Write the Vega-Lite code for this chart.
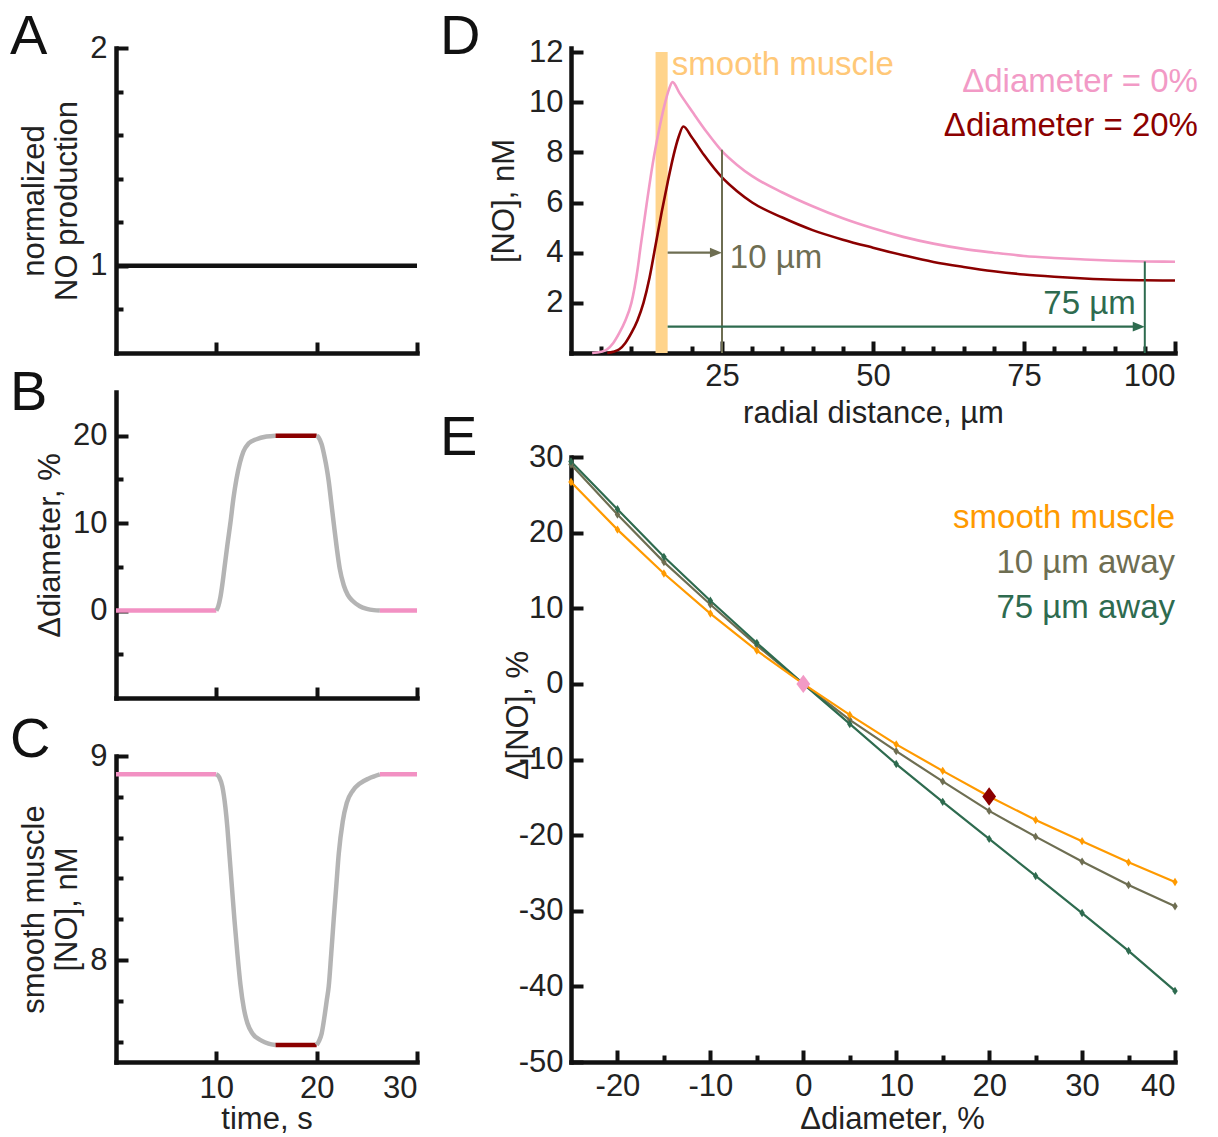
{
  "$schema": "https://vega.github.io/schema/vega-lite/v6.json",
  "autosize": {"type": "pad"},
  "padding": {"left": 10, "top": 9, "right": 5, "bottom": 2},
  "background": "white",
  "config": {
    "view": {"stroke": null},
    "font": "Liberation Sans",
    "axis": {
      "grid": false, "domainColor": "#111", "domainWidth": 4.5, "domainCap": "square",
      "tickColor": "#111", "tickWidth": 4,
      "labelFont": "Liberation Sans", "labelFontSize": 31, "labelColor": "#222",
      "titleFont": "Liberation Sans", "titleFontSize": 31, "titleFontWeight": "normal", "titleColor": "#222"
    },
    "title": {"font": "Liberation Sans", "fontSize": 56, "fontWeight": "normal", "color": "#111", "anchor": "start", "frame": "group", "offset": 0, "baseline": "alphabetic"}
  },
  "datasets": {
    "A": [{"t": 0, "v": 1}, {"t": 30, "v": 1}],
    "B": [
      {"t": 0, "v": 0, "seg": "p1"}, {"t": 10, "v": 0, "seg": "p1"},
      {"t": 10, "v": 0, "seg": "g1"}, {"t": 10.2, "v": 0.5, "seg": "g1"}, {"t": 10.4, "v": 1.5, "seg": "g1"}, {"t": 10.6, "v": 3.0, "seg": "g1"}, {"t": 10.8, "v": 4.8, "seg": "g1"}, {"t": 11.1, "v": 7.5, "seg": "g1"}, {"t": 11.4, "v": 10.0, "seg": "g1"}, {"t": 11.7, "v": 12.8, "seg": "g1"}, {"t": 12.0, "v": 15.0, "seg": "g1"}, {"t": 12.35, "v": 16.9, "seg": "g1"}, {"t": 12.7, "v": 18.2, "seg": "g1"}, {"t": 13.2, "v": 19.1, "seg": "g1"}, {"t": 14.0, "v": 19.6, "seg": "g1"}, {"t": 15.0, "v": 19.9, "seg": "g1"}, {"t": 15.9, "v": 20, "seg": "g1"},
      {"t": 15.9, "v": 20, "seg": "r"}, {"t": 20, "v": 20, "seg": "r"},
      {"t": 20, "v": 20, "seg": "g2"}, {"t": 20.2, "v": 19.8, "seg": "g2"}, {"t": 20.5, "v": 19.0, "seg": "g2"}, {"t": 20.8, "v": 17.5, "seg": "g2"}, {"t": 21.0, "v": 16.3, "seg": "g2"}, {"t": 21.2, "v": 14.8, "seg": "g2"}, {"t": 21.45, "v": 12.4, "seg": "g2"}, {"t": 21.7, "v": 10.0, "seg": "g2"}, {"t": 22.0, "v": 7.2, "seg": "g2"}, {"t": 22.3, "v": 4.8, "seg": "g2"}, {"t": 22.7, "v": 2.9, "seg": "g2"}, {"t": 23.1, "v": 1.8, "seg": "g2"}, {"t": 23.6, "v": 1.1, "seg": "g2"}, {"t": 24.3, "v": 0.5, "seg": "g2"}, {"t": 25.0, "v": 0.2, "seg": "g2"}, {"t": 25.7, "v": 0.05, "seg": "g2"}, {"t": 26.3, "v": 0, "seg": "g2"},
      {"t": 26.3, "v": 0, "seg": "p2"}, {"t": 30, "v": 0, "seg": "p2"}
    ],
    "C": [
      {"t": 0, "v": 8.91, "seg": "p1"}, {"t": 10, "v": 8.91, "seg": "p1"},
      {"t": 10, "v": 8.91, "seg": "g1"}, {"t": 10.3, "v": 8.895, "seg": "g1"}, {"t": 10.6, "v": 8.85, "seg": "g1"}, {"t": 10.9, "v": 8.75, "seg": "g1"}, {"t": 11.1, "v": 8.65, "seg": "g1"}, {"t": 11.3, "v": 8.52, "seg": "g1"}, {"t": 11.55, "v": 8.36, "seg": "g1"}, {"t": 11.8, "v": 8.2, "seg": "g1"}, {"t": 12.1, "v": 8.03, "seg": "g1"}, {"t": 12.4, "v": 7.88, "seg": "g1"}, {"t": 12.75, "v": 7.76, "seg": "g1"}, {"t": 13.1, "v": 7.69, "seg": "g1"}, {"t": 13.6, "v": 7.64, "seg": "g1"}, {"t": 14.5, "v": 7.605, "seg": "g1"}, {"t": 15.2, "v": 7.59, "seg": "g1"}, {"t": 15.9, "v": 7.583, "seg": "g1"},
      {"t": 15.9, "v": 7.583, "seg": "r"}, {"t": 20, "v": 7.583, "seg": "r"},
      {"t": 20, "v": 7.583, "seg": "g2"}, {"t": 20.2, "v": 7.6, "seg": "g2"}, {"t": 20.5, "v": 7.64, "seg": "g2"}, {"t": 20.8, "v": 7.73, "seg": "g2"}, {"t": 21.0, "v": 7.8, "seg": "g2"}, {"t": 21.2, "v": 7.87, "seg": "g2"}, {"t": 21.45, "v": 8.03, "seg": "g2"}, {"t": 21.7, "v": 8.2, "seg": "g2"}, {"t": 21.95, "v": 8.36, "seg": "g2"}, {"t": 22.2, "v": 8.52, "seg": "g2"}, {"t": 22.6, "v": 8.68, "seg": "g2"}, {"t": 23.0, "v": 8.77, "seg": "g2"}, {"t": 23.6, "v": 8.83, "seg": "g2"}, {"t": 24.3, "v": 8.865, "seg": "g2"}, {"t": 25.2, "v": 8.89, "seg": "g2"}, {"t": 26.3, "v": 8.91, "seg": "g2"},
      {"t": 26.3, "v": 8.91, "seg": "p2"}, {"t": 30, "v": 8.91, "seg": "p2"}
    ],
    "Dcurves": [
      {"r": 3.5, "c": 0, "s": "0%"}, {"r": 5, "c": 0.05, "s": "0%"}, {"r": 6, "c": 0.15, "s": "0%"}, {"r": 7, "c": 0.4, "s": "0%"}, {"r": 8, "c": 0.8, "s": "0%"}, {"r": 9, "c": 1.3, "s": "0%"}, {"r": 10, "c": 2.0, "s": "0%"}, {"r": 11, "c": 3.3, "s": "0%"}, {"r": 11.5, "c": 4.2, "s": "0%"}, {"r": 12.5, "c": 5.9, "s": "0%"}, {"r": 13.5, "c": 7.5, "s": "0%"}, {"r": 14.5, "c": 8.8, "s": "0%"}, {"r": 15.5, "c": 9.9, "s": "0%"}, {"r": 16.2, "c": 10.5, "s": "0%"}, {"r": 16.8, "c": 10.8, "s": "0%"}, {"r": 18, "c": 10.35, "s": "0%"}, {"r": 20, "c": 9.65, "s": "0%"}, {"r": 22.5, "c": 8.8, "s": "0%"}, {"r": 25, "c": 8.05, "s": "0%"}, {"r": 27.5, "c": 7.5, "s": "0%"}, {"r": 30, "c": 7.05, "s": "0%"}, {"r": 35, "c": 6.4, "s": "0%"}, {"r": 40, "c": 5.85, "s": "0%"}, {"r": 45, "c": 5.37, "s": "0%"}, {"r": 50, "c": 4.97, "s": "0%"}, {"r": 55, "c": 4.63, "s": "0%"}, {"r": 60, "c": 4.36, "s": "0%"}, {"r": 65, "c": 4.15, "s": "0%"}, {"r": 70, "c": 4.0, "s": "0%"}, {"r": 75, "c": 3.87, "s": "0%"}, {"r": 80, "c": 3.79, "s": "0%"}, {"r": 85, "c": 3.73, "s": "0%"}, {"r": 90, "c": 3.68, "s": "0%"}, {"r": 95, "c": 3.65, "s": "0%"}, {"r": 100, "c": 3.64, "s": "0%"},
      {"r": 6, "c": 0, "s": "20%"}, {"r": 7, "c": 0.05, "s": "20%"}, {"r": 8, "c": 0.15, "s": "20%"}, {"r": 9, "c": 0.4, "s": "20%"}, {"r": 10, "c": 0.8, "s": "20%"}, {"r": 11, "c": 1.3, "s": "20%"}, {"r": 12, "c": 2.0, "s": "20%"}, {"r": 13, "c": 3.0, "s": "20%"}, {"r": 14, "c": 4.3, "s": "20%"}, {"r": 15, "c": 5.6, "s": "20%"}, {"r": 16, "c": 6.8, "s": "20%"}, {"r": 17, "c": 7.9, "s": "20%"}, {"r": 17.8, "c": 8.6, "s": "20%"}, {"r": 18.6, "c": 9.03, "s": "20%"}, {"r": 20, "c": 8.6, "s": "20%"}, {"r": 22, "c": 7.9, "s": "20%"}, {"r": 25, "c": 7.0, "s": "20%"}, {"r": 27.5, "c": 6.45, "s": "20%"}, {"r": 30, "c": 6.0, "s": "20%"}, {"r": 35, "c": 5.4, "s": "20%"}, {"r": 40, "c": 4.9, "s": "20%"}, {"r": 45, "c": 4.52, "s": "20%"}, {"r": 50, "c": 4.2, "s": "20%"}, {"r": 55, "c": 3.9, "s": "20%"}, {"r": 60, "c": 3.63, "s": "20%"}, {"r": 65, "c": 3.43, "s": "20%"}, {"r": 70, "c": 3.26, "s": "20%"}, {"r": 75, "c": 3.13, "s": "20%"}, {"r": 80, "c": 3.04, "s": "20%"}, {"r": 85, "c": 2.97, "s": "20%"}, {"r": 90, "c": 2.92, "s": "20%"}, {"r": 95, "c": 2.9, "s": "20%"}, {"r": 100, "c": 2.89, "s": "20%"}
    ],
    "Dband": [{"r": 14, "r2": 16, "c": 0, "c2": 12}],
    "Dvlines": [{"r": 25, "c": 0, "c2": 8.1, "k": "10"}, {"r": 95, "c": 0, "c2": 3.65, "k": "75"}],
    "Darrows": [{"r": 16, "r2": 24, "c": 4.0, "k": "10"}, {"r": 16, "r2": 94, "c": 1.05, "k": "75"}],
    "DtextL": [
      {"r": 16.7, "c": 11.48, "label": "smooth muscle", "k": "sm"},
      {"r": 26.3, "c": 3.79, "label": "10 µm", "k": "10"}
    ],
    "DtextR": [
      {"r": 93.5, "c": 1.95, "label": "75 µm", "k": "75"},
      {"r": 103.8, "c": 10.8, "label": "Δdiameter = 0%", "k": "0%"},
      {"r": 103.8, "c": 9.05, "label": "Δdiameter = 20%", "k": "20%"}
    ],
    "E": [
      {"d": -25, "v": 29.0, "s": "10 µm away"}, {"d": -20, "v": 22.4, "s": "10 µm away"}, {"d": -15, "v": 16.1, "s": "10 µm away"}, {"d": -10, "v": 10.5, "s": "10 µm away"}, {"d": -5, "v": 5.1, "s": "10 µm away"}, {"d": 0, "v": 0, "s": "10 µm away"}, {"d": 5, "v": -4.75, "s": "10 µm away"}, {"d": 10, "v": -8.9, "s": "10 µm away"}, {"d": 15, "v": -12.9, "s": "10 µm away"}, {"d": 20, "v": -16.8, "s": "10 µm away"}, {"d": 25, "v": -20.2, "s": "10 µm away"}, {"d": 30, "v": -23.5, "s": "10 µm away"}, {"d": 35, "v": -26.6, "s": "10 µm away"}, {"d": 40, "v": -29.4, "s": "10 µm away"},
      {"d": -25, "v": 29.4, "s": "75 µm away"}, {"d": -20, "v": 23.1, "s": "75 µm away"}, {"d": -15, "v": 16.8, "s": "75 µm away"}, {"d": -10, "v": 11.0, "s": "75 µm away"}, {"d": -5, "v": 5.4, "s": "75 µm away"}, {"d": 0, "v": 0, "s": "75 µm away"}, {"d": 5, "v": -5.3, "s": "75 µm away"}, {"d": 10, "v": -10.6, "s": "75 µm away"}, {"d": 15, "v": -15.6, "s": "75 µm away"}, {"d": 20, "v": -20.5, "s": "75 µm away"}, {"d": 25, "v": -25.4, "s": "75 µm away"}, {"d": 30, "v": -30.3, "s": "75 µm away"}, {"d": 35, "v": -35.3, "s": "75 µm away"}, {"d": 40, "v": -40.6, "s": "75 µm away"},
      {"d": -25, "v": 26.7, "s": "smooth muscle"}, {"d": -20, "v": 20.4, "s": "smooth muscle"}, {"d": -15, "v": 14.6, "s": "smooth muscle"}, {"d": -10, "v": 9.3, "s": "smooth muscle"}, {"d": -5, "v": 4.4, "s": "smooth muscle"}, {"d": 0, "v": 0, "s": "smooth muscle"}, {"d": 5, "v": -4.1, "s": "smooth muscle"}, {"d": 10, "v": -8.0, "s": "smooth muscle"}, {"d": 15, "v": -11.5, "s": "smooth muscle"}, {"d": 20, "v": -14.9, "s": "smooth muscle"}, {"d": 25, "v": -18.0, "s": "smooth muscle"}, {"d": 30, "v": -20.8, "s": "smooth muscle"}, {"d": 35, "v": -23.6, "s": "smooth muscle"}, {"d": 40, "v": -26.2, "s": "smooth muscle"}
    ],
    "Ebig": [{"d": 0, "v": 0, "k": "0%"}, {"d": 20, "v": -14.9, "k": "20%"}],
    "Etext": [
      {"d": 40, "v": 22, "label": "smooth muscle", "s": "smooth muscle"},
      {"d": 40, "v": 16, "label": "10 µm away", "s": "10 µm away"},
      {"d": 40, "v": 10, "label": "75 µm away", "s": "75 µm away"}
    ]
  },
  "hconcat": [
    {
      "vconcat": [
        {
          "vconcat": [
            {
              "title": {"text": "A", "dx": -106, "dy": 38},
              "width": 301, "height": 305,
              "data": {"name": "A"},
              "mark": {"type": "line", "color": "#111", "strokeWidth": 4.5},
              "encoding": {
                "x": {"field": "t", "type": "quantitative", "scale": {"domain": [0, 30], "nice": false},
                      "axis": {"values": [10, 20, 30], "labels": false, "tickSize": -11, "title": null}},
                "y": {"field": "v", "type": "quantitative", "scale": {"domain": [0.6, 2], "nice": false, "zero": false},
                      "axis": {"values": [0.8, 1, 1.2, 1.4, 1.6, 1.8, 2],
                               "labelExpr": "datum.value == 1 || datum.value == 2 ? '' + datum.value : ''",
                               "tickSize": {"condition": {"test": "datum.value == 1 || datum.value == 2", "value": -12}, "value": -7},
                               "labelPadding": 21, "title": ["normalized", "NO production"], "titleLineHeight": 33, "titlePadding": 6}}
              }
            },
            {
              "title": {"text": "B", "dx": -106, "dy": 34},
              "width": 301, "height": 306,
              "data": {"name": "B"},
              "mark": {"type": "line", "strokeWidth": 4.5, "interpolate": "monotone"},
              "encoding": {
                "x": {"field": "t", "type": "quantitative", "scale": {"domain": [0, 30], "nice": false},
                      "axis": {"values": [10, 20, 30], "labels": false, "tickSize": -11, "title": null}},
                "y": {"field": "v", "type": "quantitative", "scale": {"domain": [-10, 25], "nice": false, "zero": false},
                      "axis": {"values": [-5, 0, 5, 10, 15, 20],
                               "labelExpr": "datum.value % 10 == 0 ? '' + datum.value : ''",
                               "tickSize": {"condition": {"test": "datum.value % 10 == 0", "value": -12}, "value": -7},
                               "labelPadding": 21, "title": "Δdiameter, %", "titlePadding": 6}},
                "color": {"field": "seg", "type": "nominal", "legend": null,
                          "scale": {"domain": ["p1", "g1", "r", "g2", "p2"], "range": ["#F291C3", "#B4B4B4", "#8B0000", "#B4B4B4", "#F291C3"]}}
              }
            }
          ],
          "spacing": 39, "bounds": "flush"
        },
        {
          "title": {"text": "C", "dx": -106, "dy": 33},
          "width": 301, "height": 306,
          "data": {"name": "C"},
          "mark": {"type": "line", "strokeWidth": 4.5, "interpolate": "monotone"},
          "encoding": {
            "x": {"field": "t", "type": "quantitative", "scale": {"domain": [0, 30], "nice": false},
                  "axis": {"values": [10, 20, 30], "labelExpr": "'' + datum.value", "tickSize": -11, "labelPadding": 22, "title": "time, s", "titlePadding": 1}},
            "y": {"field": "v", "type": "quantitative", "scale": {"domain": [7.5, 9], "nice": false, "zero": false},
                  "axis": {"values": [7.6, 7.8, 8, 8.2, 8.4, 8.6, 8.8, 9],
                           "labelExpr": "datum.value == 8 || datum.value == 9 ? '' + datum.value : ''",
                           "tickSize": {"condition": {"test": "datum.value == 8 || datum.value == 9", "value": -12}, "value": -7},
                           "labelPadding": 21, "title": ["smooth muscle", "[NO], nM"], "titleLineHeight": 33, "titlePadding": 6}},
            "color": {"field": "seg", "type": "nominal", "legend": null,
                      "scale": {"domain": ["p1", "g1", "r", "g2", "p2"], "range": ["#F291C3", "#B4B4B4", "#8B0000", "#B4B4B4", "#F291C3"]}}
          }
        }
      ],
      "spacing": 12, "bounds": "full"
    },
    {
      "vconcat": [
        {
          "title": {"text": "D", "dx": -131, "dy": 34},
          "width": 604, "height": 305,
          "encoding": {
            "x": {"field": "r", "type": "quantitative", "scale": {"domain": [0, 100], "nice": false},
                  "axis": {"values": [5, 10, 15, 20, 25, 30, 35, 40, 45, 50, 55, 60, 65, 70, 75, 80, 85, 90, 95, 100],
                           "labelExpr": "datum.value % 25 == 0 ? '' + datum.value : ''",
                           "tickSize": {"condition": {"test": "datum.value % 25 == 0", "value": -12}, "value": -7},
                           "labelPadding": 20, "title": "radial distance, µm", "titlePadding": 7}},
            "y": {"field": "c", "type": "quantitative", "scale": {"domain": [0, 12.16], "nice": false},
                  "axis": {"values": [2, 4, 6, 8, 10, 12], "labelExpr": "'' + datum.value", "tickSize": -12, "labelPadding": 20, "title": "[NO], nM", "titlePadding": 8}}
          },
          "layer": [
            {"data": {"name": "Dband"}, "mark": {"type": "rect", "color": "#FFD48C"},
             "encoding": {"x2": {"field": "r2"}, "y2": {"field": "c2"}}},
            {"data": {"name": "Dcurves"}, "mark": {"type": "line", "strokeWidth": 2.6, "interpolate": "monotone"},
             "encoding": {"color": {"field": "s", "type": "nominal", "legend": null, "scale": {"domain": ["0%", "20%"], "range": ["#F29AC6", "#8B0000"]}}}},
            {"data": {"name": "Dvlines"}, "mark": {"type": "rule", "strokeWidth": 2},
             "encoding": {"y2": {"field": "c2"}, "color": {"field": "k", "type": "nominal", "legend": null, "scale": {"domain": ["10", "75"], "range": ["#6E6E52", "#2E6B4F"]}}}},
            {"data": {"name": "Darrows"}, "mark": {"type": "rule", "strokeWidth": 2.2},
             "encoding": {"x2": {"field": "r2"}, "color": {"field": "k", "type": "nominal", "legend": null, "scale": {"domain": ["10", "75"], "range": ["#6E6E52", "#2E6B4F"]}}}},
            {"data": {"name": "Darrows"}, "mark": {"type": "point", "shape": "M-1,-0.8L1,0L-1,0.8Z", "filled": true, "opacity": 1, "size": 144},
             "encoding": {"x": {"field": "r2", "type": "quantitative"}, "color": {"field": "k", "type": "nominal", "legend": null, "scale": {"domain": ["10", "75"], "range": ["#6E6E52", "#2E6B4F"]}}}},
            {"data": {"name": "DtextL"}, "mark": {"type": "text", "fontSize": 33, "font": "Liberation Sans", "baseline": "middle", "align": "left"},
             "encoding": {"text": {"field": "label"},
                          "color": {"field": "k", "type": "nominal", "legend": null, "scale": {"domain": ["sm", "10"], "range": ["#FFC878", "#6E6E52"]}}}},
            {"data": {"name": "DtextR"}, "mark": {"type": "text", "fontSize": 33, "font": "Liberation Sans", "baseline": "middle", "align": "right"},
             "encoding": {"text": {"field": "label"},
                          "color": {"field": "k", "type": "nominal", "legend": null, "scale": {"domain": ["75", "0%", "20%"], "range": ["#2E6B4F", "#F29AC6", "#8B0000"]}}}}
          ],
          "resolve": {"scale": {"color": "independent"}}
        },
        {
          "title": {"text": "E", "dx": -131, "dy": 30},
          "width": 604, "height": 605,
          "encoding": {
            "x": {"field": "d", "type": "quantitative", "scale": {"domain": [-25, 40], "nice": false},
                  "axis": {"values": [-20, -15, -10, -5, 0, 5, 10, 15, 20, 25, 30, 35, 40],
                           "labelExpr": "datum.value % 10 == 0 ? '' + datum.value : ''",
                           "tickSize": {"condition": {"test": "datum.value % 10 == 0", "value": -12}, "value": -7},
                           "labelPadding": 21, "title": "Δdiameter, %", "titlePadding": 3, "titleX": 321}},
            "y": {"field": "v", "type": "quantitative", "scale": {"domain": [-50, 30], "nice": false},
                  "axis": {"values": [-50, -40, -30, -20, -10, 0, 10, 20, 30], "labelExpr": "'' + datum.value", "tickSize": -12, "labelPadding": 20,
                           "title": "Δ[NO], %", "titleX": -53, "titleY": 258, "titleBaseline": "middle", "titleAlign": "center", "titleAngle": -90}}
          },
          "layer": [
            {"data": {"name": "E"}, "mark": {"type": "line", "strokeWidth": 2.2},
             "encoding": {"color": {"field": "s", "type": "nominal", "legend": null, "sort": null,
                                    "scale": {"domain": ["10 µm away", "75 µm away", "smooth muscle"], "range": ["#6E6E52", "#2E6B4F", "#FF9A00"]}}}},
            {"data": {"name": "E"}, "mark": {"type": "point", "shape": "M0,-1L0.65,0L0,1L-0.65,0Z", "filled": true, "opacity": 1, "size": 70},
             "encoding": {"color": {"field": "s", "type": "nominal", "legend": null,
                                    "scale": {"domain": ["10 µm away", "75 µm away", "smooth muscle"], "range": ["#6E6E52", "#2E6B4F", "#FF9A00"]}}}},
            {"data": {"name": "Ebig"}, "mark": {"type": "point", "shape": "M0,-1L0.75,0L0,1L-0.75,0Z", "filled": true, "opacity": 1, "size": 340},
             "encoding": {"color": {"field": "k", "type": "nominal", "legend": null, "scale": {"domain": ["0%", "20%"], "range": ["#F29AC6", "#8B0000"]}}}},
            {"data": {"name": "Etext"}, "mark": {"type": "text", "fontSize": 33, "font": "Liberation Sans", "align": "right", "baseline": "middle"},
             "encoding": {"text": {"field": "label"},
                          "color": {"field": "s", "type": "nominal", "legend": null,
                                    "scale": {"domain": ["10 µm away", "75 µm away", "smooth muscle"], "range": ["#6E6E52", "#2E6B4F", "#FF9A00"]}}}}
          ],
          "resolve": {"scale": {"color": "independent"}}
        }
      ],
      "spacing": 104, "bounds": "flush"
    }
  ],
  "spacing": 14, "bounds": "full"
}
